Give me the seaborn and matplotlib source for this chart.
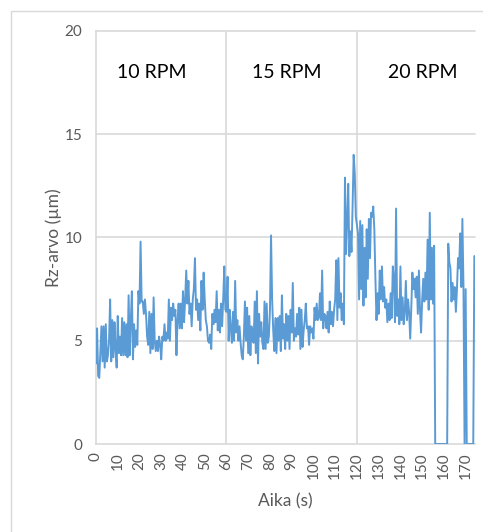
import numpy as np
import pandas as pd
import matplotlib
matplotlib.use("Agg")
import matplotlib.pyplot as plt
import seaborn as sns
from matplotlib.patches import Rectangle

# ---- data (0.5 s sampling) ----
sample_step = 0.5
rz_values = [
    3.9, 5.6, 3.3, 3.2, 4.5, 5.7, 4.0, 5.7, 3.7, 5.8, 4.0, 4.3, 5.0, 7.0, 4.0, 6.0, 4.2, 5.9, 4.6, 3.7,
    6.2, 4.4, 5.2, 4.3, 6.1, 4.3, 5.9, 4.3, 5.8, 4.2, 7.2, 4.3, 6.0, 7.4, 4.1, 5.8, 4.7, 5.5, 4.8, 7.4,
    6.8, 9.8, 6.9, 6.9, 6.3, 7.0, 6.3, 5.2, 4.8, 6.4, 4.4, 6.3, 4.6, 7.1, 5.0, 4.5, 5.0, 4.5, 5.2, 4.8,
    4.1, 5.2, 5.0, 5.8, 5.0, 5.4, 5.1, 7.0, 5.0, 6.6, 6.0, 6.8, 6.2, 6.5, 4.3, 6.0, 6.8, 5.6, 6.8, 5.6,
    7.4, 5.9, 7.0, 8.4, 6.8, 7.9, 6.3, 6.8, 5.7, 7.0, 7.5, 9.0, 6.5, 7.0, 6.0, 6.8, 5.5, 7.9, 6.5, 8.3,
    7.0, 6.0, 5.7, 5.0, 4.9, 5.3, 4.6, 6.3, 5.8, 6.5, 5.9, 7.4, 5.5, 6.5, 5.4, 6.8, 5.7, 7.0, 8.6, 6.5,
    6.4, 8.1, 5.0, 6.5, 5.6, 4.9, 6.4, 5.0, 7.9, 5.4, 6.0, 5.0, 5.7, 4.9, 4.3, 4.1, 5.2, 6.9, 5.0, 6.6,
    4.4, 6.2, 4.3, 5.7, 5.0, 4.9, 6.9, 4.4, 7.4, 3.9, 6.3, 5.2, 5.9, 4.9, 4.6, 6.9, 4.6, 6.8, 4.9, 5.2,
    6.5, 10.1, 7.0, 5.5, 4.5, 6.1, 4.4, 6.1, 5.0, 6.2, 4.5, 7.2, 5.1, 5.8, 4.6, 6.3, 5.0, 6.2, 4.6, 6.5,
    5.4, 7.8, 5.0, 5.6, 5.2, 6.3, 5.3, 6.6, 4.6, 6.5, 4.7, 5.5, 6.0, 6.8, 5.6, 5.7, 4.8, 5.7, 5.4, 5.6,
    5.1, 6.6, 6.0, 6.8, 6.0, 6.1, 7.3, 6.0, 8.4, 5.6, 6.3, 6.2, 5.6, 6.4, 5.4, 6.9, 5.8, 6.4, 5.7, 6.5,
    7.0, 8.9, 6.0, 9.0, 6.6, 7.3, 6.0, 6.8, 5.8, 12.9, 9.2, 10.8, 12.6, 9.1, 10.3, 9.3, 11.5, 14.0, 13.1, 11.0,
    10.6, 10.2, 7.0, 10.8, 7.5, 10.6, 6.7, 9.5, 7.1, 10.4, 8.0, 10.9, 9.0, 11.2, 11.0, 11.5, 10.4, 8.0, 6.0, 7.3,
    6.3, 8.4, 7.0, 8.6, 6.9, 7.6, 6.6, 7.0, 5.9, 6.8, 6.0, 7.3, 6.1, 8.6, 8.0, 5.9, 11.4, 6.2, 7.0, 5.8,
    8.6, 6.0, 7.1, 5.8, 6.4, 7.9, 6.0, 7.0, 6.4, 5.1, 6.6, 8.3, 7.5, 8.0, 7.1, 8.1, 6.3, 8.4, 6.5, 5.4,
    7.0, 8.0, 6.9, 8.3, 7.0, 9.9, 6.5, 11.2, 7.0, 9.5, 6.8, 9.6, 0, 0, 0, 0, 0, 0, 0, 0,
    0, 0, 0, 0, 9.7, 8.8, 8.5, 6.9, 7.8, 7.0, 7.6, 6.4, 7.5, 9.0, 8.5, 10.2, 7.6, 10.9, 7.6, 0,
    7.5, 0, 0, 0, 0, 0, 0, 0, 9.1,
]
x_ticks = list(range(0, 171, 10))
y_ticks = [0, 5, 10, 15, 20]
section_bounds = [60, 120]
section_labels = ["10 RPM", "15 RPM", "20 RPM"]
section_label_x = [25.7, 87.9, 150.5]
section_label_y = 18.0

df = pd.DataFrame({"Aika": np.arange(len(rz_values)) * sample_step, "Rz": rz_values})

sns.set_style("white")
plt.rcParams["font.family"] = ["Lato", "DejaVu Sans"]

W, H = 483, 532
fig = plt.figure(figsize=(W / 100, H / 100), dpi=100)
ax = fig.add_axes([96 / W, 1 - 444 / H, (475 - 96) / W, (444 - 31) / H])

# outer chart border
fig.patches.append(Rectangle((11 / W, -0.2), 1.5, (1 - 11 / H) + 0.2, transform=fig.transFigure,
                             fill=False, edgecolor="#d9d9d9", linewidth=1.0))

grid_c = "#d9d9d9"
# gridlines (drawn explicitly from the tick arrays)
for yv in y_ticks[1:]:
    ax.axhline(yv, color=grid_c, linewidth=1.2, zorder=1, clip_on=False)
for xv in section_bounds:
    ax.axvline(xv, color=grid_c, linewidth=1.2, zorder=1)

sns.lineplot(data=df, x="Aika", y="Rz", ax=ax, color="#5B9BD5", linewidth=1.4, zorder=3)

ax.set_xlim(0, 174.3)
ax.set_ylim(0, 20)
ax.set_yticks(y_ticks)
ax.set_xticks(x_ticks)
ax.set_xticks([0] + section_bounds, minor=True)
ax.grid(False)
for s in ["top", "right"]:
    ax.spines[s].set_visible(False)
for s in ["left", "bottom"]:
    ax.spines[s].set_color(grid_c)
    ax.spines[s].set_linewidth(1.2)

ax.tick_params(axis="x", which="major", length=0, labelrotation=90, labelsize=11,
               labelcolor="#595959", pad=6)
ax.tick_params(axis="x", which="minor", bottom=True, length=5, color=grid_c, width=1.2)
ax.tick_params(axis="y", which="major", length=0, labelsize=11, labelcolor="#595959", pad=10)

ax.set_xlabel("Aika (s)", fontsize=12.5, color="#595959", labelpad=10)
ax.set_ylabel("Rz-arvo (µm)", fontsize=12.5, color="#595959", labelpad=2)

for lx, lab in zip(section_label_x, section_labels):
    ax.text(lx, section_label_y, lab, ha="center", va="center", fontsize=14, color="black")

fig.savefig("out.png", dpi=100)
